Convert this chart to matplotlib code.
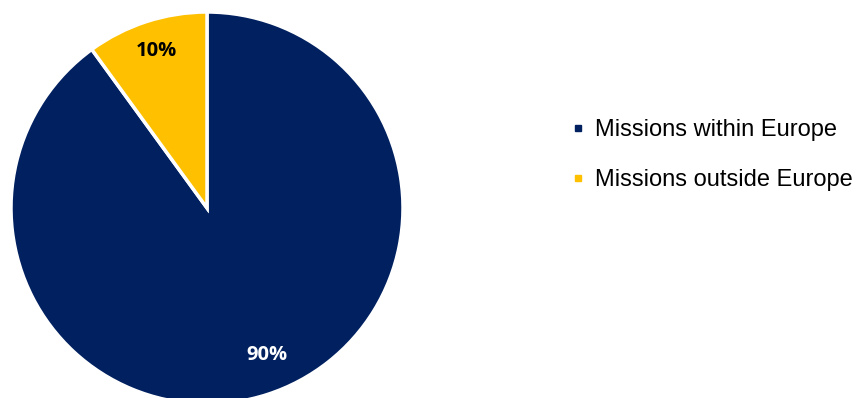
import numpy as np
import matplotlib.pyplot as plt
from matplotlib.lines import Line2D

labels = ["Missions within Europe", "Missions outside Europe"]
shares = [90, 10]
colors = ["#002060", "#FFC000"]

fig = plt.figure(figsize=(8.59, 3.98), dpi=100)
W, H = 859, 398

# square axes so the pie keeps its shape; bottom of the pie runs off the canvas
ax = fig.add_axes([11 / W, -6 / H, 392 / W, 392 / H])
wedges, texts, autotexts = ax.pie(
    shares, colors=colors, startangle=90, counterclock=False,
    autopct="%d%%", pctdistance=0.84,
    wedgeprops=dict(edgecolor="white", linewidth=2.5),
    textprops=dict(family="Open Sans", fontweight="bold", fontsize=14.5),
)
ax.set_xlim(-1, 1)
ax.set_ylim(-1, 1)
autotexts[0].set_color("white")
autotexts[1].set_color("black")

# nudge the big-slice label a bit toward the middle
th = np.deg2rad(-68)
autotexts[0].set_position((0.81 * np.cos(th), 0.81 * np.sin(th)))

handles = [Line2D([], [], marker="s", linestyle="none", markersize=5,
                  markerfacecolor=c, markeredgecolor=c) for c in colors]
fig.legend(handles, labels, loc="center left",
           bbox_to_anchor=(571 / W, 1 - 155 / H), frameon=False,
           prop=dict(family="Liberation Sans", size=17),
           handlelength=0.6, handletextpad=0.4, labelspacing=1.2,
           borderaxespad=0, borderpad=0)

fig.savefig("out.png", dpi=100)
